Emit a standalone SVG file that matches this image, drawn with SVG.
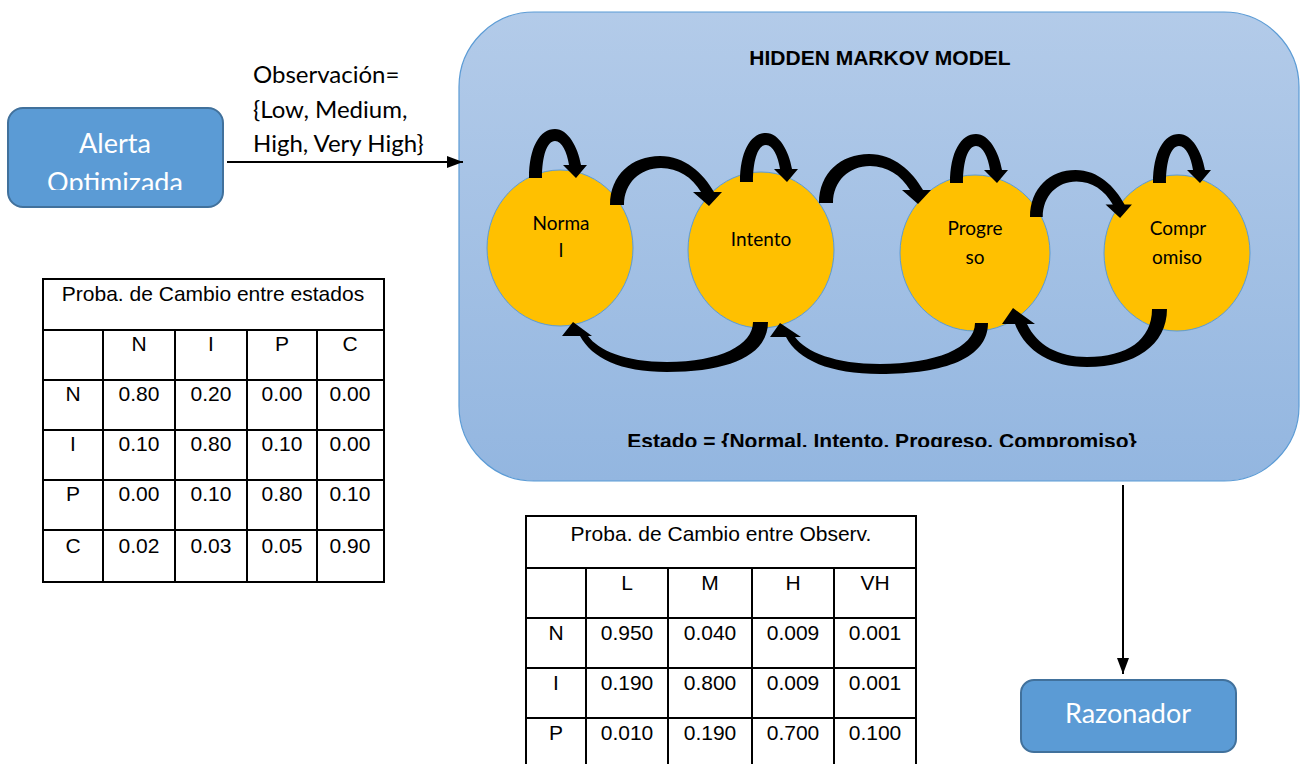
<svg xmlns="http://www.w3.org/2000/svg" width="1305" height="764" viewBox="0 0 1305 764">
  <style>
    .cal { font-family: Lato, "Open Sans", "DejaVu Sans", sans-serif; }
    .ari { font-family: "Liberation Sans", Arial, sans-serif; font-size: 21px; fill: #000; }
    .box { fill: #5b9bd5; stroke: #41719c; stroke-width: 2; }
    .boxtxt { fill: #ffffff; font-size: 27px; text-anchor: middle; }
    .state { fill: #ffc000; stroke: #5b9bd5; stroke-width: 1; }
    .statetxt { fill: #000; font-size: 19px; text-anchor: middle; }
    .grid { fill: none; stroke: #000; stroke-width: 2; }
    .ctr { text-anchor: middle; }
    .link { stroke: #000; stroke-width: 2; fill: none; }
    .arc { fill: #000; }
  </style>
  <defs>
    <linearGradient id="hmmFill" x1="0" y1="0" x2="0" y2="1">
      <stop offset="0" stop-color="#b3cbe9"/>
      <stop offset="1" stop-color="#93b6e0"/>
    </linearGradient>
    <marker id="head" markerWidth="16" markerHeight="12" refX="16" refY="6" orient="auto" markerUnits="userSpaceOnUse">
      <path d="M0,0 L16,6 L0,12 Z" fill="#000"/>
    </marker>
    <!-- self transition: block arc over the top of a state -->
    <path id="selfLoop" d="M0,0 C0,-31 11,-49 26,-49 C39,-49 49,-31 52,-13 L58,-13 L47,0 L34,-13 L40,-13 C38,-26 33,-37 26,-37 C18,-37 13,-22 13,0 Z"/>
    <!-- forward transition: block arc hopping to the next state -->
    <path id="hopArc" d="M0,0 C0,-30 22,-49 50,-49 C75,-49 93,-32 104,-13 L112,-13 L99,1 L83,-13 L91,-13 C82,-28 68,-37 51,-37 C30,-37 14,-22 14,0 Z"/>
    <clipPath id="alertClip"><rect x="8" y="108" width="215" height="82"/></clipPath>
    <clipPath id="estadoClip"><rect x="600" y="420" width="560" height="27"/></clipPath>
  </defs>

  <!-- Hidden Markov Model container -->
  <g id="hmm">
    <rect x="459" y="12" width="840" height="469" rx="75" ry="75" fill="url(#hmmFill)" stroke="#5b9bd5" stroke-width="1.2"/>
    <text class="ari ctr" x="880" y="65" font-weight="bold">HIDDEN MARKOV MODEL</text>
    <text class="ari ctr" x="882" y="448" font-weight="bold" font-size="21.4" clip-path="url(#estadoClip)">Estado = {Normal. Intento. Progreso. Compromiso}</text>
  </g>

  <!-- states -->
  <g id="state-normal">
    <ellipse class="state" cx="560" cy="248" rx="73" ry="78"/>
    <text class="cal statetxt" x="561" y="230">Norma</text>
    <text class="cal statetxt" x="561" y="257">l</text>
  </g>
  <g id="state-intento">
    <ellipse class="state" cx="761" cy="250" rx="73" ry="78"/>
    <text class="cal statetxt" x="761" y="246">Intento</text>
  </g>
  <g id="state-progreso">
    <ellipse class="state" cx="975" cy="253" rx="75" ry="78"/>
    <text class="cal statetxt" x="975" y="235">Progre</text>
    <text class="cal statetxt" x="975" y="264">so</text>
  </g>
  <g id="state-compromiso">
    <ellipse class="state" cx="1177" cy="253" rx="73" ry="78"/>
    <text class="cal statetxt" x="1178" y="235">Compr</text>
    <text class="cal statetxt" x="1177" y="264">omiso</text>
  </g>

  <!-- outer nodes -->
  <g id="alerta">
    <rect class="box" x="8" y="108" width="215" height="99" rx="15" ry="15"/>
    <g clip-path="url(#alertClip)">
      <text class="cal boxtxt" x="115" y="153">Alerta</text>
      <text class="cal boxtxt" x="115" y="192">Optimizada</text>
    </g>
  </g>
  <g id="razonador">
    <rect class="box" x="1021" y="680" width="215" height="72" rx="13" ry="13"/>
    <text class="cal boxtxt" x="1128" y="723">Razonador</text>
  </g>

  <!-- probability tables -->
  <g id="tabla-estados">
    <rect class="grid" x="43" y="279" width="341" height="303"/>
    <path class="grid" d="M43,330 H384 M43,380 H384 M43,430 H384 M43,480 H384 M43,530 H384 M103,330 V582 M175,330 V582 M247,330 V582 M317,330 V582"/>
    <text class="ari ctr" x="213" y="301">Proba. de Cambio entre estados</text>
    <g class="ari ctr">
      <text x="139" y="351">N</text><text x="211" y="351">I</text><text x="282" y="351">P</text><text x="350" y="351">C</text>
      <text x="73" y="401">N</text><text x="139" y="401">0.80</text><text x="211" y="401">0.20</text><text x="282" y="401">0.00</text><text x="350" y="401">0.00</text>
      <text x="73" y="451">I</text><text x="139" y="451">0.10</text><text x="211" y="451">0.80</text><text x="282" y="451">0.10</text><text x="350" y="451">0.00</text>
      <text x="73" y="501">P</text><text x="139" y="501">0.00</text><text x="211" y="501">0.10</text><text x="282" y="501">0.80</text><text x="350" y="501">0.10</text>
      <text x="73" y="553">C</text><text x="139" y="553">0.02</text><text x="211" y="553">0.03</text><text x="282" y="553">0.05</text><text x="350" y="553">0.90</text>
    </g>
  </g>
  <g id="tabla-observ">
    <path class="grid" d="M526,770 V516 H916 V770 M526,568 H916 M526,618 H916 M526,668 H916 M526,718 H916 M586,568 V770 M668,568 V770 M752,568 V770 M834,568 V770"/>
    <text class="ari ctr" x="721" y="541">Proba. de Cambio entre Observ.</text>
    <g class="ari ctr">
      <text x="627" y="590">L</text><text x="710" y="590">M</text><text x="793" y="590">H</text><text x="875" y="590">VH</text>
      <text x="556" y="640">N</text><text x="627" y="640">0.950</text><text x="710" y="640">0.040</text><text x="793" y="640">0.009</text><text x="875" y="640">0.001</text>
      <text x="556" y="690">I</text><text x="627" y="690">0.190</text><text x="710" y="690">0.800</text><text x="793" y="690">0.009</text><text x="875" y="690">0.001</text>
      <text x="556" y="740">P</text><text x="627" y="740">0.010</text><text x="710" y="740">0.190</text><text x="793" y="740">0.700</text><text x="875" y="740">0.100</text>
    </g>
  </g>

  <!-- connectors -->
  <g id="connectors">
    <line class="link" x1="227" y1="162" x2="463" y2="162" marker-end="url(#head)"/>
    <text class="cal" font-size="24" x="253" y="83">Observación=</text>
    <text class="cal" font-size="24" x="253" y="118">{Low, Medium,</text>
    <text class="cal" font-size="24" x="253" y="152">High, Very High}</text>
    <line class="link" x1="1123" y1="485" x2="1123" y2="674" marker-end="url(#head)"/>

    <!-- self transitions -->
    <use href="#selfLoop" class="arc" transform="translate(529,178)"/>
    <use href="#selfLoop" class="arc" transform="translate(740,182)"/>
    <use href="#selfLoop" class="arc" transform="translate(950,183)"/>
    <use href="#selfLoop" class="arc" transform="translate(1153,183)"/>

    <!-- forward transitions -->
    <use href="#hopArc" class="arc" transform="translate(610,205)"/>
    <use href="#hopArc" class="arc" transform="translate(819,203)"/>
    <use href="#hopArc" class="arc" transform="translate(1030,217) scale(0.91,0.96)"/>

    <!-- backward transitions -->
    <path class="arc" d="M768,322 C768,355 730,372 667,372 C620,372 592,358 580,336 L562,336 L573,322 L592,336 L588,336 C598,350 625,362 667,362 C720,362 753,345 753,322 Z"/>
    <path class="arc" d="M988,323 C988,358 945,374 880,374 C830,374 798,360 786,337 L770,337 L780,323 L801,337 L795,337 C806,352 835,364 880,364 C935,364 975,348 975,323 Z"/>
    <path class="arc" d="M1167,309 C1167,345 1135,367 1087,367 C1050,367 1025,350 1015,324 L1002,324 L1013,308 L1035,324 L1027,324 C1037,345 1058,357 1087,357 C1127,357 1152,340 1152,309 Z"/>
  </g>
</svg>
